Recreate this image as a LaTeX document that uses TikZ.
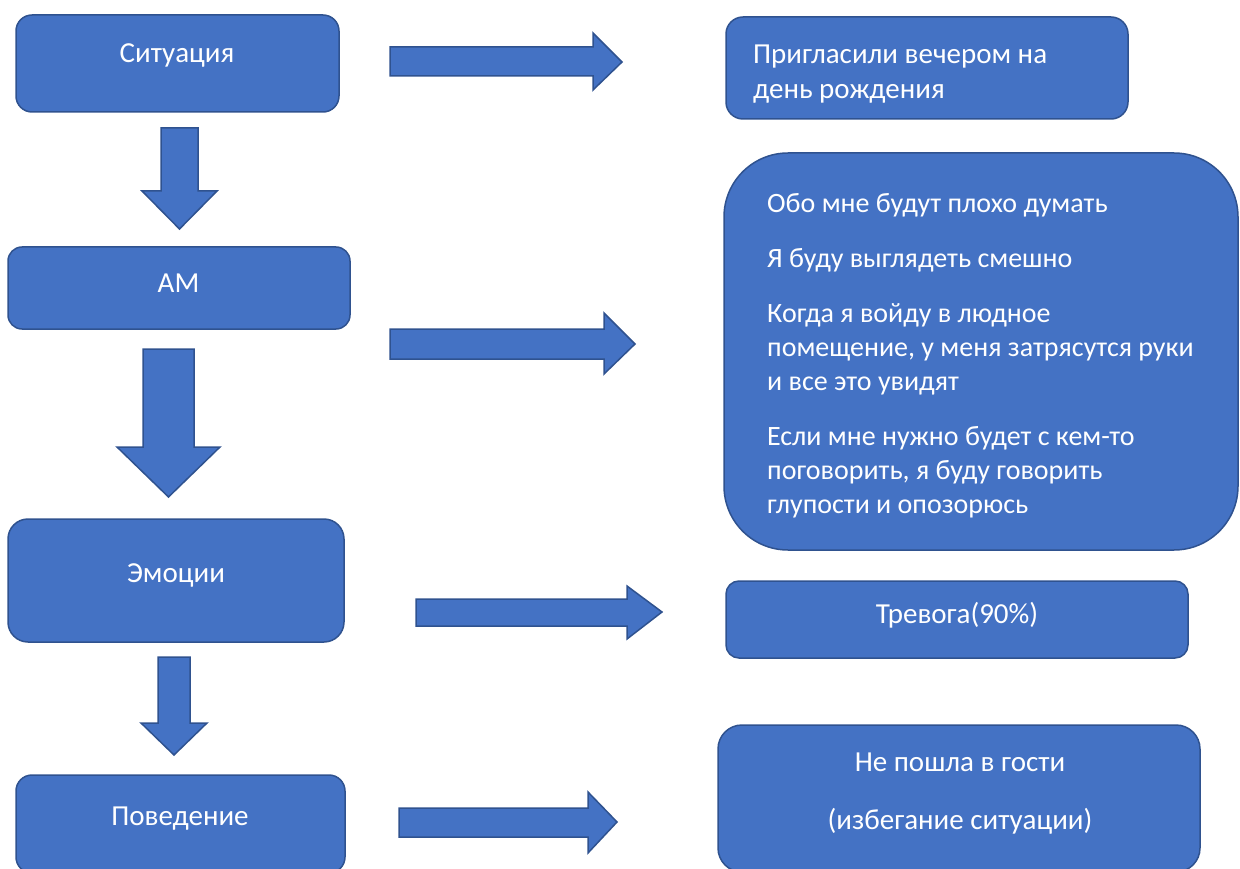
\documentclass[tikz,border=0pt]{standalone}
\usepackage{fontspec}
\setmainfont{Carlito}
\definecolor{boxblue}{HTML}{4472C4}
\definecolor{boxline}{HTML}{2F528F}
\tikzset{
	box/.style={draw=boxline, fill=boxblue, line width=1.5pt},
	blockarrow/.style={draw=boxline, fill=boxblue, line width=1.5pt, line join=miter},
	label/.style={text=white, inner sep=0pt, font=\fontsize{29}{35.4}\selectfont},
	smalllabel/.style={label, font=\fontsize{28}{34}\selectfont}
}
\begin{document}
\begin{tikzpicture}[x=1pt, y=-1pt]
	\useasboundingbox (0,0) rectangle (1240,869);
	% levi stolpec
	\draw[box, rounded corners=16] (16,15) rectangle (339,112);
	\node[label, anchor=base] (situacija) at (177,63) {Ситуация};
	\draw[box, rounded corners=14] (8,247) rectangle (350,329);
	\node[label, anchor=base] (am) at (178.5,292) {АМ};
	\draw[box, rounded corners=20] (8,519) rectangle (344,642);
	\node[label, anchor=base] (emocii) at (176,582) {Эмоции};
	\draw[box, rounded corners=16] (16,775) rectangle (345,873);
	\node[label, anchor=base] (povedenie) at (180,825) {Поведение};
	% puscice navzdol
	\draw[blockarrow] (161,128) -- (198,128) -- (198,191) -- (217,191) -- (179.5,229) -- (142,191) -- (161,191) -- cycle;
	\draw[blockarrow] (143,349) -- (194,349) -- (194,447) -- (220,447) -- (168.5,497) -- (117,447) -- (143,447) -- cycle;
	\draw[blockarrow] (158,657) -- (190,657) -- (190,723) -- (207,723) -- (174,755) -- (141,723) -- (158,723) -- cycle;
	% puscice v desno
	\draw[blockarrow] (390,47) -- (593,47) -- (593,33) -- (622,62) -- (593,90) -- (593,76) -- (390,76) -- cycle;
	\draw[blockarrow] (390,329) -- (604,329) -- (604,313) -- (635,344) -- (604,374) -- (604,359) -- (390,359) -- cycle;
	\draw[blockarrow] (416,599) -- (627,599) -- (627,586) -- (662,612) -- (627,639) -- (627,626) -- (416,626) -- cycle;
	\draw[blockarrow] (399,808) -- (588,808) -- (588,792) -- (617,822) -- (588,853) -- (588,837) -- (399,837) -- cycle;
	% desni stolpec
	\draw[box, rounded corners=17] (726,17) rectangle (1128,119);
	\node[label, anchor=north west, align=left] (primer) at (753,44.5) {Пригласили вечером на\\день рождения};
	\draw[box, rounded corners=64] (724,153) rectangle (1238,550);
	\node[smalllabel, anchor=north west, align=left] (misli) at (767,193) {Обо мне будут плохо думать\\[21pt]
		Я буду выглядеть смешно\\[21pt]
		Когда я войду в людное\\помещение, у меня затрясутся руки\\и все это увидят\\[21pt]
		Если мне нужно будет с кем-то\\поговорить, я буду говорить\\глупости и опозорюсь};
	\draw[box, rounded corners=13] (726,581) rectangle (1188,658);
	\node[label, anchor=base] (trevoga) at (957,623) {Тревога(90\%)};
	\draw[box, rounded corners=24] (718,725) rectangle (1200,872);
	\node[label, anchor=north, align=center] (izogib) at (960,752.5) {Не пошла в гости\\[22.6pt](избегание ситуации)};
\end{tikzpicture}
\end{document}
